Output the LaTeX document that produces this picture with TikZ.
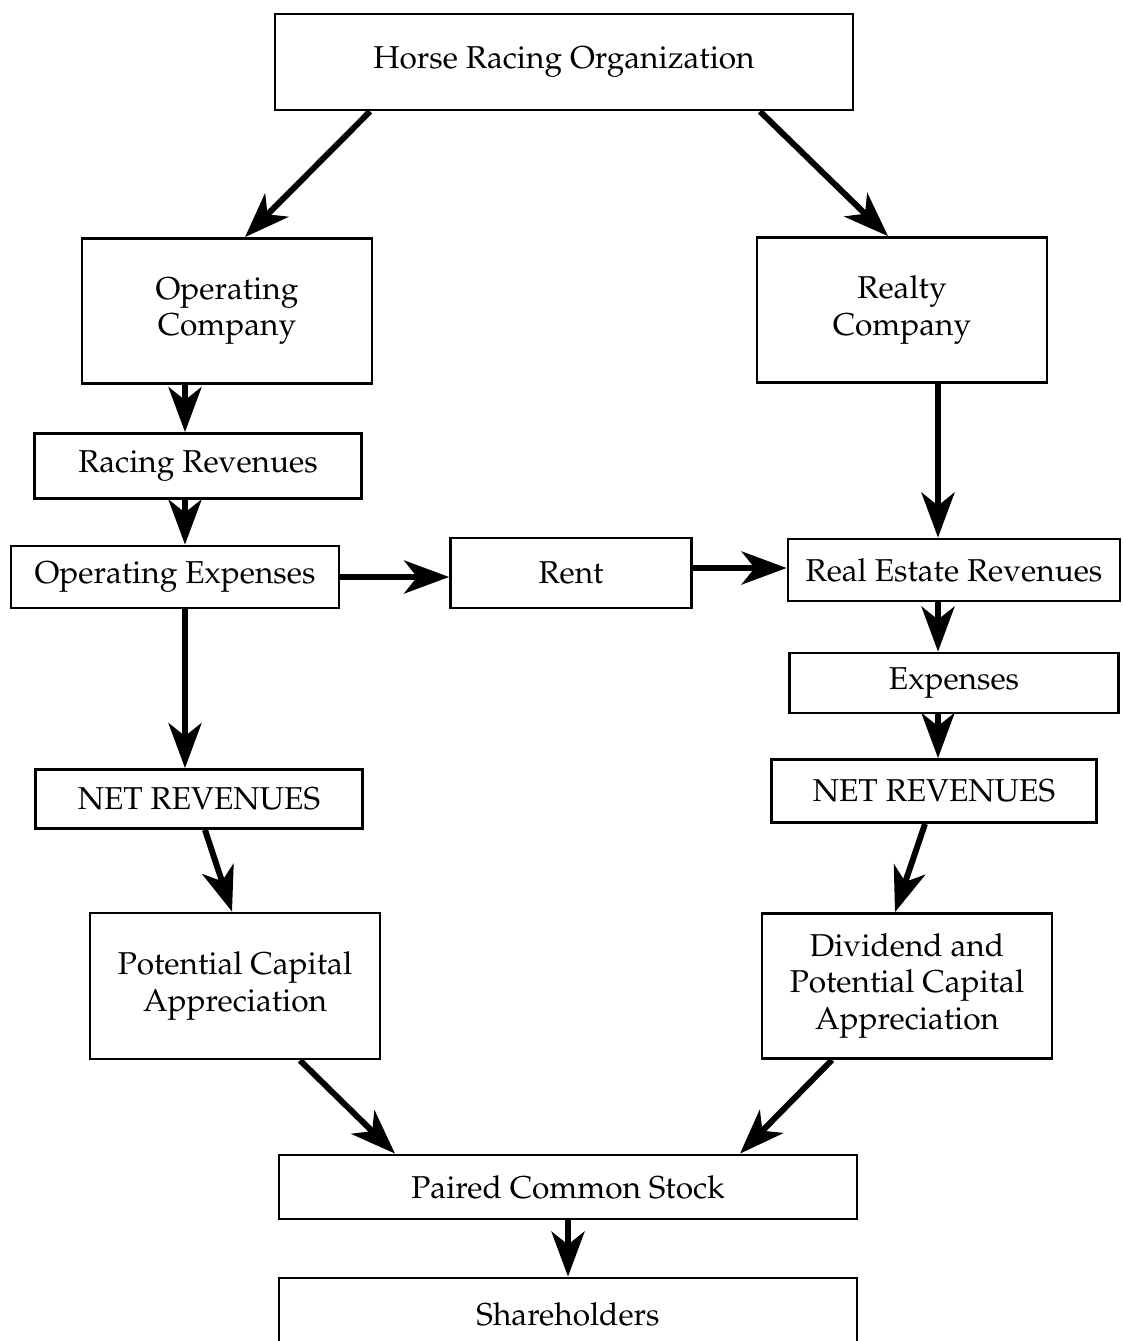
\documentclass[tikz,border=0pt]{standalone}
\usepackage[T1]{fontenc}
\usepackage{mathpazo}
\usepackage{tikz}
\usetikzlibrary{arrows.meta}

\begin{document}
\begin{tikzpicture}[x=0.02cm, y=-0.02cm,
      box/.style={draw, line width=1.6pt, align=center, inner sep=2pt,
                  font=\fontsize{18}{21}\selectfont},
      arr/.style={-{Stealth[length=0.9cm, width=0.66cm, inset=0.26cm]}, line width=3.4pt}
  ]
    \useasboundingbox (0,0) rectangle (1122,1341);
    \node[box, minimum width=11.56cm, minimum height=1.92cm] (hro) at (564,62) {Horse Racing Organization};
    \node[box, minimum width=5.8cm, minimum height=2.9cm]   (opc) at (227,311) {Operating\\ Company};
    \node[box, minimum width=5.8cm, minimum height=2.9cm]   (rlc) at (902,310) {Realty\\ Company};
    \node[box, minimum width=6.54cm, minimum height=1.3cm]  (rr)  at (198,466) {Racing Revenues};
    \node[box, minimum width=6.56cm, minimum height=1.24cm] (opx) at (175,577) {Operating Expenses};
    \node[box, minimum width=4.82cm, minimum height=1.4cm]  (rent) at (571,573) {Rent};
    \node[box, minimum width=6.64cm, minimum height=1.24cm] (rer) at (954,570) {Real Estate Revenues};
    \node[box, minimum width=6.58cm, minimum height=1.2cm]  (exp) at (954,683) {Expenses};
    \node[box, minimum width=6.5cm, minimum height=1.26cm]  (netr) at (934,791) {NET REVENUES};
    \node[box, minimum width=6.54cm, minimum height=1.18cm] (netl) at (199,799) {NET REVENUES};
    \node[box, minimum width=5.8cm, minimum height=2.92cm]  (pca) at (235,986) {Potential Capital\\ Appreciation};
    \node[box, minimum width=5.8cm, minimum height=2.9cm]   (div) at (907,986) {Dividend and\\ Potential Capital\\ Appreciation};
    \node[box, minimum width=11.56cm, minimum height=1.28cm] (pcs) at (568,1187) {Paired Common Stock};
    \node[box, minimum width=11.56cm, minimum height=1.44cm] (sh)  at (568,1314) {Shareholders};
    % top split
    \draw[arr] ([xshift=-3.88cm]hro.south) -- ([xshift=0.36cm]opc.north);
    \draw[arr] ([xshift=3.92cm]hro.south) -- ([xshift=-0.28cm]rlc.north);
    % operating side
    \draw[arr] ([xshift=-0.84cm]opc.south) -- ([xshift=-0.84cm]opc.south |- rr.north);
    \draw[arr] ([xshift=-0.26cm]rr.south) -- ([xshift=-0.26cm]rr.south |- opx.north);
    \draw[arr] ([xshift=0.2cm]opx.south) -- ([xshift=0.2cm]opx.south |- netl.north);
    \draw[arr] (opx.east) -- (opx.east -| rent.west);
    \draw[arr] ([yshift=0.1cm]rent.east) -- ([yshift=0.1cm]rent.east -| rer.west);
    % realty side
    \draw[arr] ([xshift=0.72cm]rlc.south) -- ([xshift=0.72cm]rlc.south |- rer.north);
    \draw[arr] ([xshift=-0.32cm]rer.south) -- ([xshift=-0.32cm]rer.south |- exp.north);
    \draw[arr] ([xshift=-0.32cm]exp.south) -- ([xshift=-0.32cm]exp.south |- netr.north);
    % to the stock
    \draw[arr] ([xshift=0.12cm]netl.south) -- ([xshift=-0.06cm]pca.north);
    \draw[arr] ([xshift=-0.18cm]netr.south) -- ([xshift=-0.24cm]div.north);
    \draw[arr] ([xshift=1.3cm]pca.south) -- ([xshift=-3.46cm]pcs.north);
    \draw[arr] ([xshift=-1.5cm]div.south) -- ([xshift=3.44cm]pcs.north);
    \draw[arr] (pcs.south) -- (sh.north);
\end{tikzpicture}
\end{document}
